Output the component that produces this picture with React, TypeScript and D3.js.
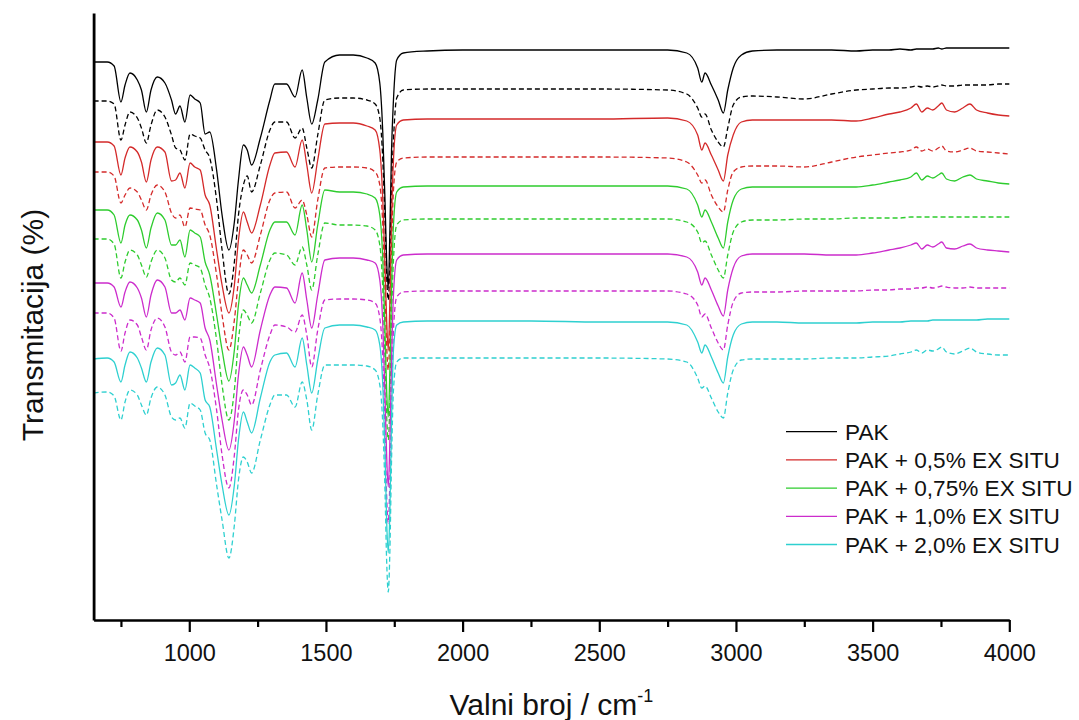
import React, { useEffect, useRef } from "react";
import * as d3 from "d3";

// Wavenumber grid (cm^-1)
const wavenumbers = [
  650, 700, 725, 750, 765, 783, 810, 825, 843, 860,
  883, 911, 935, 950, 966, 984, 1003, 1020, 1040, 1058,
  1075, 1100, 1120, 1145, 1165, 1180, 1198, 1212, 1228, 1260,
  1295, 1313, 1356, 1387, 1413, 1430, 1448, 1470, 1496, 1550,
  1600, 1650, 1680, 1697, 1708, 1716, 1722, 1728, 1734, 1740,
  1747, 1759, 1783, 1870, 2000, 2250, 2500, 2750, 2820, 2860,
  2875, 2887, 2910, 2935, 2954, 2970, 2990, 3020, 3060, 3150,
  3250, 3350, 3440, 3500, 3560, 3600, 3640, 3660, 3680, 3700,
  3720, 3740, 3753, 3770, 3800, 3830, 3856, 3880, 3920, 3960, 4000,
];

// Offset transmittance (arbitrary units) for each spectrum
const pak = [
  558, 558, 554, 518, 535, 547, 540, 530, 508, 530,
  543, 537, 520, 506, 514, 498, 525, 521, 517, 486,
  488, 450, 405, 370, 398, 440, 475, 470, 455, 482,
  520, 536, 536, 523, 550, 522, 496, 520, 558, 565,
  565, 562, 557, 537, 487, 420, 360, 332, 390, 470,
  520, 560, 567, 569, 570, 570, 570, 570, 567, 552,
  538, 547, 535, 520, 507, 530, 552, 565, 569, 570,
  570, 570, 569, 570, 570, 571, 570, 571, 571, 571,
  571, 572, 571, 572, 572, 572, 572, 572, 572, 572, 572,
];
const pakDashed = [
  519, 519, 516, 480, 495, 508, 502, 492, 477, 495,
  510, 503, 485, 472, 470, 460, 486, 484, 482, 470,
  462, 420, 370, 326, 358, 405, 435, 444, 428, 455,
  490, 498, 498, 482, 492, 472, 452, 485, 520, 522,
  522, 520, 516, 502, 460, 400, 345, 320, 358, 430,
  480, 522, 530, 531, 531, 531, 531, 530, 526, 512,
  503, 506, 490, 478, 473, 492, 515, 523, 524, 523,
  521, 526, 530, 531, 532, 532, 533, 534, 533, 534,
  533, 534, 535, 534, 534, 535, 535, 535, 535, 536, 536,
];
const ex05 = [
  478, 478, 474, 445, 462, 473, 468, 458, 438, 460,
  473, 468, 439, 440, 447, 432, 457, 453, 450, 425,
  415, 370, 335, 307, 335, 380, 408, 398, 387, 415,
  455, 467, 468, 453, 480, 455, 427, 460, 496, 497,
  497, 494, 490, 470, 420, 355, 300, 270, 320, 400,
  460, 495, 500, 501, 501, 501, 501, 502, 499, 485,
  470, 477, 465, 450, 439, 465, 485, 498, 500, 500,
  500, 500, 499, 502, 506, 508, 512, 516, 508, 512,
  510, 514, 517, 510, 508, 512, 516, 510, 507, 505, 504,
];
const ex05Dashed = [
  448, 448, 444, 417, 425, 432, 428, 420, 410, 425,
  435, 428, 407, 402, 405, 393, 412, 411, 410, 395,
  385, 345, 305, 270, 300, 340, 370, 365, 357, 385,
  420, 427, 428, 412, 420, 405, 383, 420, 452, 453,
  453, 452, 448, 435, 395, 330, 275, 250, 290, 370,
  430, 458, 462, 463, 463, 463, 463, 462, 458, 445,
  437, 440, 425, 413, 408, 430, 448, 453, 454, 454,
  453, 458, 463, 465, 467, 468, 470, 473, 469, 471,
  469, 472, 474, 469, 468, 470, 472, 469, 468, 467, 466,
];
const ex075 = [
  410, 410, 405, 377, 395, 405, 400, 390, 372, 392,
  407, 400, 375, 375, 380, 363, 390, 387, 383, 358,
  345, 305, 270, 239, 270, 315, 342, 335, 327, 355,
  390, 398, 398, 385, 415, 390, 358, 395, 430, 428,
  428, 426, 422, 405, 360, 290, 230, 203, 250, 330,
  395, 428, 433, 434, 434, 434, 434, 434, 431, 415,
  403, 410, 398, 382, 372, 398, 420, 431, 433, 433,
  433, 433, 433, 435, 438, 440, 443, 447, 440, 444,
  442, 445, 447, 441, 439, 443, 445, 441, 439, 437, 436,
];
const ex075Dashed = [
  381, 381, 376, 342, 358, 370, 365, 355, 343, 358,
  370, 362, 340, 338, 342, 335, 357, 355, 352, 335,
  322, 280, 235, 200, 230, 280, 310, 305, 297, 327,
  360, 367, 365, 355, 373, 355, 330, 365, 397, 395,
  395, 394, 390, 375, 330, 260, 205, 180, 220, 300,
  360, 395, 400, 401, 401, 401, 401, 401, 398, 388,
  377, 379, 365, 350, 342, 365, 388, 398, 400, 400,
  401, 401, 402, 402, 402, 402, 403, 403, 403, 403,
  403, 403, 403, 403, 403, 403, 403, 403, 403, 403, 403,
];
const ex10 = [
  337, 337, 333, 313, 328, 338, 332, 322, 303, 325,
  340, 333, 307, 307, 310, 300, 322, 320, 317, 292,
  280, 235, 200, 170, 200, 245, 273, 265, 253, 290,
  325, 333, 332, 317, 347, 320, 292, 325, 360, 362,
  362, 360, 357, 340, 295, 225, 165, 133, 180, 260,
  325, 360, 365, 366, 366, 366, 366, 366, 363, 348,
  335, 342, 330, 314, 304, 330, 352, 364, 366, 366,
  366, 365, 365, 367, 370, 372, 375, 377, 371, 375,
  373, 376, 378, 372, 371, 374, 376, 372, 370, 369, 368,
];
const ex10Dashed = [
  307, 307, 302, 269, 287, 300, 295, 283, 270, 290,
  302, 293, 268, 265, 268, 258, 283, 283, 282, 265,
  252, 210, 165, 132, 165, 210, 230, 225, 215, 250,
  285, 295, 293, 288, 305, 285, 253, 290, 320, 321,
  321, 320, 317, 302, 260, 190, 125, 97, 140, 220,
  290, 323, 328, 329, 329, 329, 329, 329, 326, 315,
  303, 306, 292, 277, 270, 295, 318, 327, 328, 328,
  329, 329, 329, 330, 330, 331, 331, 332, 332, 333,
  332, 333, 334, 333, 332, 332, 333, 332, 332, 332, 332,
];
const ex20 = [
  261, 262, 258, 238, 255, 268, 262, 252, 238, 258,
  272, 265, 235, 237, 245, 230, 255, 252, 247, 220,
  213, 170, 135, 105, 135, 180, 208, 198, 187, 222,
  258, 265, 267, 253, 282, 255, 227, 260, 292, 295,
  295, 293, 290, 275, 235, 170, 100, 67, 110, 200,
  270, 295, 298, 299, 299, 299, 298, 298, 295, 278,
  267, 275, 263, 247, 237, 263, 285, 296, 298, 298,
  297, 297, 297, 298, 298, 298, 299, 299, 299, 299,
  300, 300, 300, 300, 300, 300, 300, 300, 301, 301, 301,
];
const ex20Dashed = [
  227, 228, 224, 200, 218, 230, 225, 215, 205, 222,
  233, 225, 203, 200, 202, 192, 217, 214, 210, 187,
  180, 135, 100, 62, 95, 140, 163, 158, 147, 180,
  215, 225, 225, 213, 238, 220, 190, 225, 255, 255,
  255, 254, 250, 235, 195, 130, 60, 28, 70, 160,
  230, 258, 262, 262, 262, 262, 262, 261, 258, 242,
  232, 234, 222, 208, 202, 227, 250, 260, 261, 261,
  261, 262, 262, 263, 264, 266, 268, 270, 267, 270,
  269, 271, 273, 268, 266, 269, 272, 268, 266, 265, 265,
];

const seriesNames = [
  "PAK",
  "PAK + 0,5% EX SITU",
  "PAK + 0,75% EX SITU",
  "PAK + 1,0% EX SITU",
  "PAK + 2,0% EX SITU",
];
const seriesColors = ["#000000", "#d42a2a", "#2ecc2e", "#cc2ccc", "#2ed0d0"];
const solidSeries = [pak, ex05, ex075, ex10, ex20];
const dashedSeries = [pakDashed, ex05Dashed, ex075Dashed, ex10Dashed, ex20Dashed];

const majorTicks = [1000, 1500, 2000, 2500, 3000, 3500, 4000];
const minorTicks = [750, 1250, 1750, 2250, 2750, 3250, 3750];

const W = 1079;
const H = 720;
const FONT = "'Liberation Sans', Arial, sans-serif";

export default function App() {
  const xAxisRef = useRef<SVGGElement>(null);
  const xMinorRef = useRef<SVGGElement>(null);
  const yAxisRef = useRef<SVGGElement>(null);

  const x = d3.scaleLinear().domain([650, 4000]).range([93.6, 1009.3]);
  const y = d3.scaleLinear().domain([0, 607]).range([620, 13]);

  const line = d3
    .line<number>()
    .x((_, i) => x(wavenumbers[i]))
    .y((d) => y(d))
    .curve(d3.curveMonotoneX);

  useEffect(() => {
    if (xAxisRef.current) {
      const g = d3.select(xAxisRef.current);
      g.call(
        d3
          .axisBottom(x)
          .tickValues(majorTicks)
          .tickSize(12)
          .tickSizeOuter(0)
          .tickPadding(12)
          .tickFormat(d3.format("d"))
      );
      g.select(".domain").attr("stroke-width", 2.5).attr("stroke", "#000");
      g.selectAll(".tick line").attr("stroke-width", 2.2).attr("stroke", "#000");
      g.selectAll(".tick text")
        .attr("font-size", 23.5)
        .attr("font-family", FONT)
        .attr("fill", "#111");
    }
    if (xMinorRef.current) {
      const g = d3.select(xMinorRef.current);
      g.call(
        d3
          .axisBottom(x)
          .tickValues(minorTicks)
          .tickSize(7)
          .tickSizeOuter(0)
          .tickFormat(() => "")
      );
      g.select(".domain").remove();
      g.selectAll(".tick line").attr("stroke-width", 2.2).attr("stroke", "#000");
    }
    if (yAxisRef.current) {
      const g = d3.select(yAxisRef.current);
      g.call(d3.axisLeft(y).tickValues([]).tickSizeOuter(0));
      g.select(".domain").attr("stroke-width", 2.8).attr("stroke", "#000");
    }
  }, []);

  const drawOrder = [0, 1, 2, 3, 4];

  return (
    <svg
      width={W}
      height={H}
      style={{ position: "absolute", left: 0, top: 0, background: "#fff" }}
    >
      <rect x={0} y={0} width={W} height={H} fill="#fff" />
      {drawOrder.map((i) => (
        <g key={"s" + i}>
          <path
            d={line(solidSeries[i]) || ""}
            fill="none"
            stroke={seriesColors[i]}
            strokeWidth={1.3}
          />
          <path
            d={line(dashedSeries[i]) || ""}
            fill="none"
            stroke={seriesColors[i]}
            strokeWidth={1.3}
            strokeDasharray="5,3"
          />
        </g>
      ))}
      <g ref={xMinorRef} transform={`translate(0,${y(0)})`} />
      <g ref={xAxisRef} transform={`translate(0,${y(0)})`} />
      <g ref={yAxisRef} transform={`translate(${x(650)},0)`} />

      <text
        x={(x(650) + x(4000)) / 2}
        y={715}
        textAnchor="middle"
        fontFamily={FONT}
        fontSize={30}
        fill="#111"
      >
        Valni broj / cm
        <tspan fontSize={18} dy={-13}>
          -1
        </tspan>
      </text>
      <text
        transform="translate(43,325) rotate(-90)"
        textAnchor="middle"
        fontFamily={FONT}
        fontSize={30}
        fill="#111"
      >
        Transmitacija (%)
      </text>

      <g>
        {seriesNames.map((name, i) => {
          const cy = 431.7 + i * 28.2;
          return (
            <g key={name}>
              <line
                x1={786}
                x2={837}
                y1={cy}
                y2={cy}
                stroke={seriesColors[i]}
                strokeWidth={1.3}
              />
              <text
                x={845}
                y={cy}
                dy="0.36em"
                fontFamily={FONT}
                fontSize={22.6}
                fill="#111"
              >
                {name}
              </text>
            </g>
          );
        })}
      </g>
    </svg>
  );
}
